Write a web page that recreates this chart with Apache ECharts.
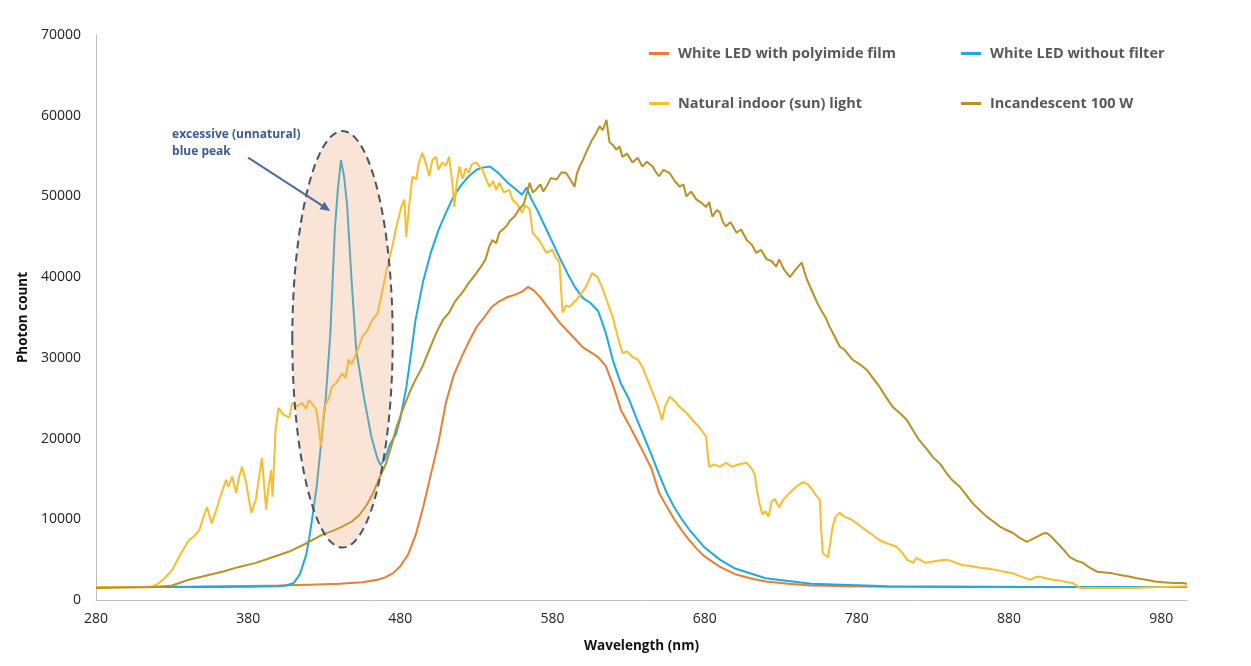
<!DOCTYPE html>
<html>
<head>
<meta charset="utf-8">
<script src="https://cdn.jsdelivr.net/npm/echarts@6/dist/echarts.min.js"></script>
<style>html,body{margin:0;padding:0;background:#fff}#c{width:1251px;height:666px}</style>
</head>
<body>
<div id="c"></div>
<script>
const xTickLabels = [280, 380, 480, 580, 680, 780, 880, 980];
const seriesNames = ['White LED with polyimide film', 'White LED without filter', 'Natural indoor (sun) light', 'Incandescent 100 W'];

const filmNm = [280,300,320,340,360,380,400,420,440,455,465,470,475,480,485,490,495,500,505,510,515,520,525,530,535,540,545,550,555,560,564,568,572,576,580,585,590,595,600,605,610,615,620,625,630,635,640,645,650,655,660,665,670,675,680,690,700,710,720,735,750,775,800,850,900,950,997];
const filmVal = [1600,1600,1650,1650,1700,1750,1800,1900,2000,2200,2500,2800,3300,4200,5600,8000,11500,15500,19500,24500,27800,30000,32000,33800,35000,36300,37000,37500,37800,38200,38800,38300,37500,36500,35500,34300,33300,32300,31300,30700,30100,29000,26500,23500,21800,20000,18200,16300,13300,11600,10000,8600,7400,6300,5400,4100,3200,2700,2300,2000,1800,1700,1650,1600,1600,1600,1600];

const bareNm = [280,300,320,340,360,380,400,405,410,414,418,420,422,425,428,431,434,437,439,441,443,445,448,451,456,461,465,467,470,473,477,480,484,487,490,495,500,505,510,515,520,525,530,535,539,545,550,555,560,563,566,570,575,580,585,590,595,600,605,610,615,620,625,630,635,640,645,650,655,660,665,670,680,690,700,720,750,800,900,997];
const bareVal = [1600,1600,1600,1600,1600,1650,1700,1800,2100,3200,5500,7500,10000,14000,19500,25000,33000,46000,51000,54500,52500,49000,39500,31000,25200,20200,17500,16700,17500,19200,20500,22500,26400,30500,34700,39500,43000,45800,48000,50000,51400,52500,53300,53600,53700,52800,51800,51000,50200,51100,49700,48300,46300,44300,42300,40400,38700,37400,36800,35800,33100,29500,26800,25000,22600,20300,18000,15600,13300,11500,10000,8700,6500,5000,3900,2700,2000,1700,1600,1600];

const sunNm = [280,300,315,320,325,330,335,341,345,348,351,353,356,359.6,362,365.5,367,369.5,372,374,376,378.7,382,385,387,389,391.8,393,395,396,398,400,403,407,409,412,415.5,418,420,424.7,426,427.8,430,433,435,438,441.8,444,446,448,451,453,455,458,461.6,465,468,471,474.7,477,480.6,482.6,483.9,486,488,490.5,492,494.5,497,499,501,503.6,505,507.6,510,512,514,515.5,517,518.8,521,523,525,527,530,532,534,536,538.5,541,543,545,548,551.7,553.7,557,560,562,565,567,571,573,576,580,582,584.6,586.6,589,591,595.8,599,602,606,609.6,612,615.5,619.5,623,626,629,632.6,636,639,642,645.8,649,652,654,657,660,663.6,668,672,676,681,682,683,686,690,694,698,702,707.6,711.6,713,714,716,718,720,722,724,726,729,732,736,740,744.5,748,751,753,755.7,756.5,757.6,761,762.5,764,766,768.8,772,776,780,784,788.6,792,795,800,806,810,812.9,817,819,821.4,825,828,834,839,844,849.7,855,860.9,866,872,877,882.6,888,894,897,900,904,909,914,918,922,926.7,940,960,980,997];
const sunVal = [1600,1600,1600,1900,2700,3700,5500,7400,8000,8700,10500,11500,9500,11500,13000,14900,14000,15300,13300,15200,16500,14500,10800,12400,15000,17600,11200,13500,16100,12800,21100,23800,23000,22600,24400,24000,24400,23700,24800,23600,22000,19000,23900,25000,26400,26900,28100,27500,29800,29200,30600,31500,32600,33300,34700,35500,38100,40900,43800,45900,48700,49600,45000,49200,52500,52100,54000,55400,54000,52500,54500,54900,53300,54200,53800,54900,52000,48700,51500,53700,52200,53500,52900,54000,54200,53700,53300,52300,51200,51900,50800,51700,50500,50800,49600,49000,48000,48900,48400,45500,44600,44000,43000,43400,42500,41800,35600,36500,36300,37200,38000,38800,40500,40000,39000,37200,35100,32500,30600,30800,30100,29800,28900,27500,25700,24200,22300,24000,25200,24700,23900,23200,22300,21500,20200,18000,16500,16800,16500,17000,16500,16800,17000,16100,15500,14000,12000,10600,11000,10300,12200,12500,11500,12500,13300,14000,14600,14300,13600,13000,12400,9000,5800,5300,7000,9000,10300,10800,10300,10000,9500,8900,8300,7800,7400,7000,6600,5800,5000,4600,5200,5000,4600,4700,4900,5000,4700,4300,4200,4000,3900,3700,3500,3300,2900,2500,2800,2900,2700,2500,2400,2200,2100,1500,1500,1500,1600,1700];

const incNm = [280,300,320,330,341,352,363,374,385,396,407,418,428.7,436,441.8,448,453,458,462,466,470.8,474,477,481,486,490,494.5,499,503.6,508,512,516,520.8,525,530,533,536,538.5,540.5,543,545,549.7,552,555,558,561,563,565,567,569,572,574,576,579,582.6,586,589,592,594.5,596,597.8,600,602,604,606,608,611,613,615.5,616.5,617.5,620,622,624,626,629,632.6,636,639,642,645.8,648,650,653,657,660,663.6,666,668,671,674.7,678,681,683,685,688,690,692,694,697,701,704,707.6,711,714,717,720.8,724,727,729,732,736,740,743.8,747,751,754,757.6,760,762,765,768.8,772,777,782,786.6,791,795,799,803.7,808,812.9,817,821,826,830,835,839,843,847.8,852,856,861,865.5,870,874,878,882.6,887,891.8,895,898,902,904.9,908,911.6,916,920,924,928.7,933,938,943,948,953,959,964,970,976,981,988,994,997];
const incVal = [1500,1550,1600,1800,2500,3000,3500,4100,4600,5300,6000,7000,8100,8600,9100,9700,10500,11800,13200,15000,17000,19000,21100,23300,25700,27300,28900,31000,33100,34700,35600,37000,38100,39300,40500,41300,42200,43800,44600,44200,45500,46300,47000,47500,48400,49000,50300,51700,50500,50800,51500,50600,51200,52300,52100,53000,52900,52000,51200,52800,53700,54500,55400,56200,57000,57600,58700,58200,59500,58000,56700,56300,55800,56200,54900,55300,54200,54800,53700,54300,53700,53000,52500,53300,52900,52000,51200,51500,50000,50600,49600,49200,48700,49300,47500,48300,48000,46800,46300,46800,45500,45900,44600,44000,43000,43400,42200,42000,41300,42200,41000,40000,41000,41800,39800,38100,36800,35600,34800,33900,32800,31400,31000,29800,29200,28500,27400,26400,25200,23900,23200,22300,21000,19800,18700,17700,16800,15700,14800,14000,13000,12000,11100,10300,9700,9100,8700,8300,7700,7200,7500,7800,8200,8300,7800,7100,6200,5300,4900,4600,4000,3500,3400,3300,3100,2900,2700,2500,2300,2200,2100,2100,2000];

// annotation anchors (data coordinates)
const ellipseCenter = [442, 32300];
const ellipseRadius = [33, 25800];
const noteLines = ['excessive (unnatural)', 'blue peak'];
const noteAnchor = [330, 56600];
const arrowFrom = [380, 54800];
const arrowTo = [434, 48200];

const zip = (xs, ys) => xs.map((x, i) => [x, ys[i]]);
const colors = ['#ED7D31', '#1FA9E1', '#FBBD2C', '#BC9022'];
const seriesData = [zip(filmNm, filmVal), zip(bareNm, bareVal), zip(sunNm, sunVal), zip(incNm, incVal)];

const legendPos = [[644, 41], [956, 41], [644, 91], [956, 91]];
const FONT = '"Open Sans", "Liberation Sans", sans-serif';

const chart = echarts.init(document.getElementById('c'), null, {renderer: 'canvas'});
chart.setOption({
  animation: false,
  backgroundColor: '#fff',
  color: colors,
  grid: {left: 96, right: 64, top: 35, bottom: 66, containLabel: false},
  legend: seriesNames.map((n, i) => ({
    data: [n], left: legendPos[i][0], top: legendPos[i][1],
    icon: 'rect', itemWidth: 20, itemHeight: 3, itemGap: 0,
    textStyle: {fontFamily: FONT, fontWeight: 'bold', fontSize: 14.5, color: '#595959', padding: [0, 0, 0, 4]}
  })),
  xAxis: {
    type: 'value', min: 280, max: 997,
    axisLine: {show: true, lineStyle: {color: '#BFBFBF', width: 1}},
    axisTick: {show: false},
    splitLine: {show: false},
    axisLabel: {customValues: xTickLabels, formatter: v => String(v), fontFamily: FONT, fontSize: 14, color: '#222', margin: 12},
    name: 'Wavelength (nm)', nameLocation: 'middle', nameGap: 39,
    nameTextStyle: {fontFamily: FONT, fontWeight: 'bold', fontSize: 13.5, color: '#111'}
  },
  yAxis: {
    type: 'value', min: 0, max: 70000, interval: 10000,
    axisLine: {show: true, lineStyle: {color: '#BFBFBF', width: 1}},
    axisTick: {show: false},
    splitLine: {show: false},
    axisLabel: {formatter: v => String(v), fontFamily: FONT, fontSize: 14, color: '#222', margin: 15},
    name: 'Photon count', nameLocation: 'middle', nameGap: 61, nameRotate: 90,
    nameTextStyle: {fontFamily: FONT, fontWeight: 'bold', fontSize: 13.5, color: '#111'}
  },
  series: seriesNames.map((n, i) => ({
    name: n, type: 'line', data: seriesData[i], showSymbol: false, symbol: 'none',
    lineStyle: {width: 2, color: colors[i]}, itemStyle: {color: colors[i]}, z: 2 + i
  }))
});

function px(p) { return chart.convertToPixel({gridIndex: 0}, p); }
const c = px(ellipseCenter);
const e1 = px([ellipseCenter[0] + ellipseRadius[0], ellipseCenter[1] + ellipseRadius[1]]);
const a0 = px(arrowFrom), a1 = px(arrowTo);
const ang = Math.atan2(a1[1] - a0[1], a1[0] - a0[0]);
const hl = 10, hw = 4.5;
const head = [
  a1,
  [a1[0] - hl * Math.cos(ang) + hw * Math.sin(ang), a1[1] - hl * Math.sin(ang) - hw * Math.cos(ang)],
  [a1[0] - hl * Math.cos(ang) - hw * Math.sin(ang), a1[1] - hl * Math.sin(ang) + hw * Math.cos(ang)]
];
const t = px(noteAnchor);
chart.setOption({
  graphic: [
    {type: 'ellipse', z: 100, shape: {cx: c[0], cy: c[1], rx: Math.abs(e1[0] - c[0]), ry: Math.abs(e1[1] - c[1])},
     style: {fill: 'rgba(240,165,120,0.30)', stroke: '#44546A', lineWidth: 2, lineDash: [8, 5]}},
    {type: 'line', z: 101, shape: {x1: a0[0], y1: a0[1], x2: a1[0] - 6 * Math.cos(ang), y2: a1[1] - 6 * Math.sin(ang)},
     style: {stroke: '#4F6B9C', lineWidth: 2}},
    {type: 'polygon', z: 101, shape: {points: head}, style: {fill: '#4F6B9C'}},
    {type: 'text', z: 101, x: t[0], y: t[1],
     style: {text: noteLines.join('\n'), fill: '#3B5A96', font: 'bold 12px ' + FONT, lineHeight: 17, textVerticalAlign: 'middle', verticalAlign: 'top'}}
  ]
});
</script>
</body>
</html>
